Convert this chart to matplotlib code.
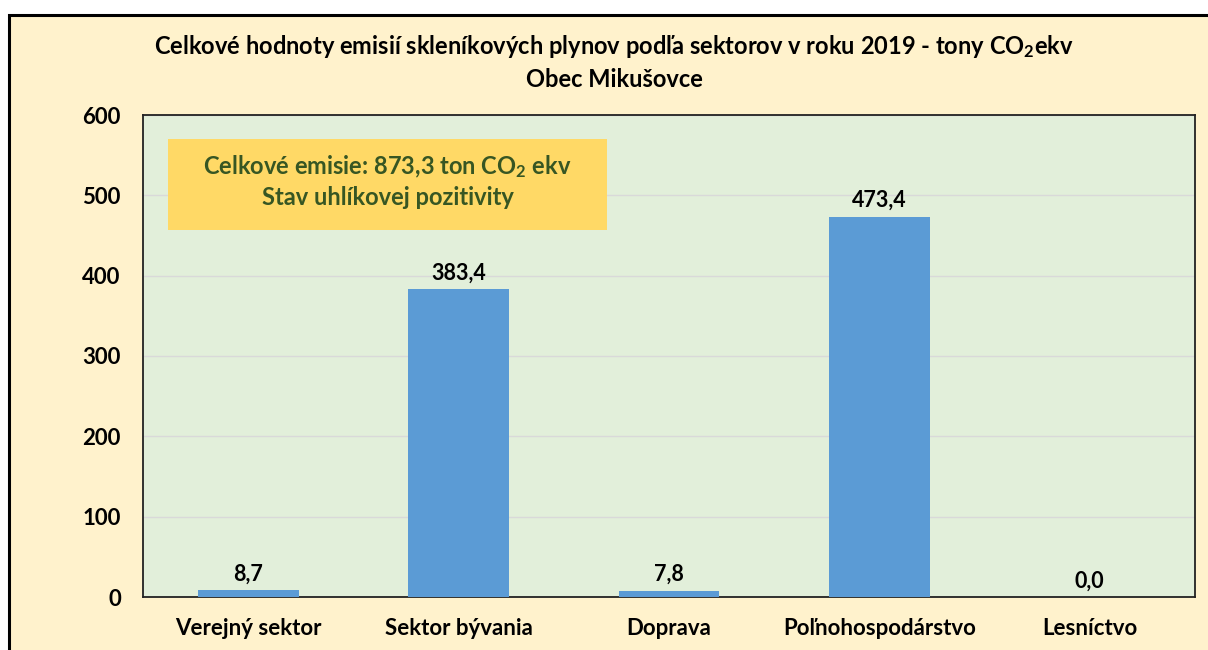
import matplotlib
matplotlib.use("Agg")
import matplotlib.pyplot as plt
from matplotlib.patches import Rectangle

# --- data ---
sectors = ["Verejný sektor", "Sektor bývania", "Doprava", "Poľnohospodárstvo", "Lesníctvo"]
emissions = [8.7, 383.4, 7.8, 473.4, 0.0]
y_ticks = [0, 100, 200, 300, 400, 500, 600]

title_text = "Celkové hodnoty emisií skleníkových plynov podľa sektorov v roku 2019 - tony CO$_2$ekv\nObec Mikušovce"
box_text = "Celkové emisie: 873,3 ton CO$_2$ ekv\nStav uhlíkovej pozitivity"

FONT = "Lato"
plt.rcParams["font.family"] = [FONT, "DejaVu Sans"]
plt.rcParams["font.weight"] = "bold"
plt.rcParams["mathtext.fontset"] = "custom"
plt.rcParams["mathtext.rm"] = f"{FONT}:bold"
plt.rcParams["mathtext.bf"] = f"{FONT}:bold"
plt.rcParams["mathtext.default"] = "rm"

W, H = 1208, 650
fig = plt.figure(figsize=(W / 100, H / 100), dpi=100, facecolor="white")

# chart area (cream, with black frame cut off at right/bottom)
frame = Rectangle((9 / W, -0.1), 1.2, 1 - 15 / H + 0.1, transform=fig.transFigure,
                  facecolor="#FFF2CC", edgecolor="black", linewidth=2.2, zorder=-5)
fig.patches.append(frame)

ax = fig.add_axes([143 / W, 1 - 597 / H, (1195 - 143) / W, (597 - 115) / H])
ax.set_zorder(2)
ax.set_facecolor("#E2EFDA")

x = range(len(sectors))
ax.bar(x, emissions, width=0.48, color="#5B9BD5", zorder=3)
for xi, v in zip(x, emissions):
    ax.annotate(f"{v:.1f}".replace(".", ","), (xi, v), xytext=(0, 4),
                textcoords="offset points", ha="center", va="bottom",
                fontsize=15.5, fontweight="bold", color="black", zorder=4)

ax.set_xlim(-0.5, len(sectors) - 0.5)
ax.set_ylim(0, 600)
ax.set_yticks(y_ticks)
ax.set_xticks(list(x))
ax.set_xticklabels(sectors)
ax.tick_params(axis="both", length=0, labelsize=16)
ax.tick_params(axis="y", pad=16)
ax.tick_params(axis="x", pad=15)
ax.grid(axis="y", color="#D9D9D9", linewidth=1, zorder=1)
for s in ax.spines.values():
    s.set_color("#222222")
    s.set_linewidth(1.3)

# summary box
bx0, bx1 = (168 - 143) / 1052, (607 - 143) / 1052
by0, by1 = (597 - 230) / 482, (597 - 139) / 482
ax.add_patch(Rectangle((bx0, by0), bx1 - bx0, by1 - by0, transform=ax.transAxes,
                       facecolor="#FFD966", edgecolor="none", zorder=5))
ax.text((bx0 + bx1) / 2, (597 - 181) / 482, box_text, transform=ax.transAxes,
        ha="center", va="center", fontsize=17, fontweight="bold",
        color="#375623", linespacing=1.3, zorder=6)

fig.text(614 / W, 1 - 62 / H, title_text, ha="center", va="center",
         fontsize=17, fontweight="bold", color="black", linespacing=1.4)

fig.savefig("out.png", dpi=100, facecolor=fig.get_facecolor())
